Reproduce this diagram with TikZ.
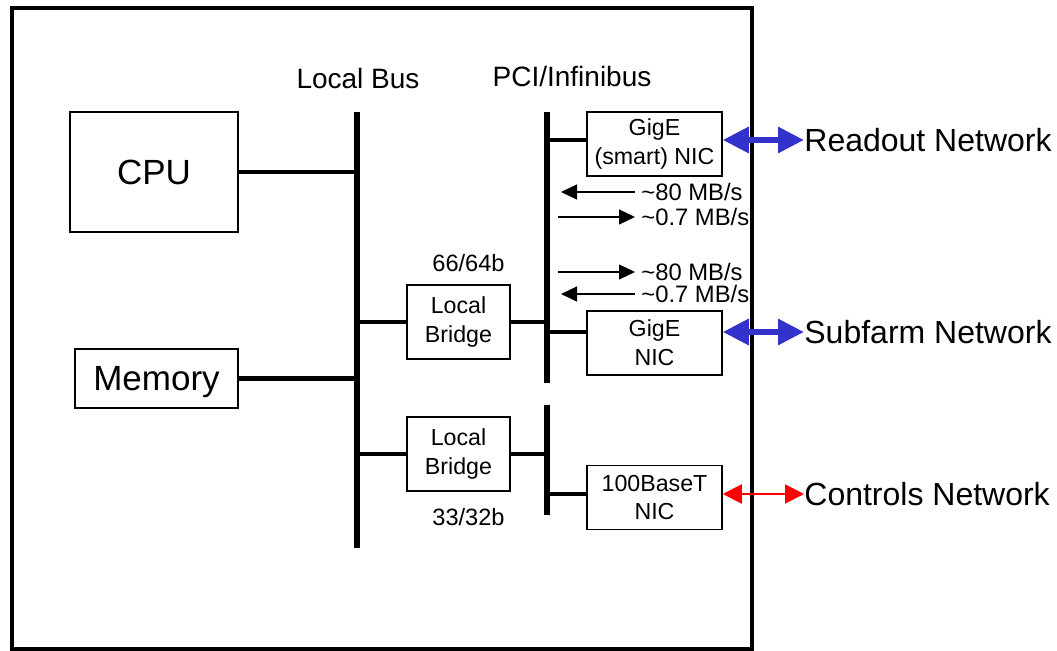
\documentclass[tikz,border=0pt]{standalone}
\usepackage{fontspec}
\setmainfont{Liberation Sans}
\usetikzlibrary{arrows.meta, positioning}
\definecolor{netBlue}{HTML}{3333CC}
\definecolor{netRed}{HTML}{FF0000}

\begin{document}
\begin{tikzpicture}[
    x=0.5pt, y=-0.5pt,
    box/.style={draw, line width=0.75pt, inner sep=0pt, align=center,
                font=\fontsize{11.6}{14.3}\selectfont},
    bigbox/.style={draw, line width=0.75pt, inner sep=0pt,
                font=\fontsize{17.5}{20}\selectfont},
    bus/.style={line width=2.6pt},
    conn/.style={line width=2.4pt},
    title/.style={inner sep=0pt, font=\fontsize{14}{16}\selectfont},
    rate/.style={inner sep=0pt, font=\fontsize{11.9}{14}\selectfont},
    netlabel/.style={inner sep=0pt, anchor=west, font=\fontsize{16}{19}\selectfont},
    ratearr/.style={-{Triangle[length=8pt, width=7.5pt]}, line width=0.6pt},
    bluearr/.style={{Triangle[length=13pt, width=12.5pt]}-{Triangle[length=13pt, width=12.5pt]},
                line width=3pt, netBlue},
    redarr/.style={{Triangle[length=9.5pt, width=9.5pt]}-{Triangle[length=9.5pt, width=9.5pt]},
                line width=1pt, netRed},
]
\useasboundingbox (0,0) rectangle (1057,651);
% Host frame
\draw[line width=2pt] (12,8) rectangle (752,649);

% Buses
\coordinate (lbT) at (357,112);
\coordinate (lbB) at (357,548);
\coordinate (pciT) at (547,112);
\coordinate (pciM) at (547,383);
\coordinate (pciL) at (547,405);
\coordinate (pciB) at (547,515);
\draw[bus] (lbT) -- (lbB);
\draw[bus] (pciT) -- (pciM);
\draw[bus] (pciL) -- (pciB);
\node[title] (lbtitle) at (358,79) {Local Bus};
\node[title] (pcititle) at (572,76) {PCI/Infinibus};

% Processor side
\node[bigbox, minimum width=84pt, minimum height=60pt] (cpu) at (154,172) {CPU};
\node[bigbox, minimum width=81.5pt, minimum height=29.5pt, text depth=0pt] (mem) at (156.5,378.5) {Memory};
\draw[conn] (cpu.east) -- (cpu.east -| lbT);
\draw[conn] (mem.east) -- (mem.east -| lbT);

% Bridges
\node[box, minimum width=51.5pt, minimum height=37pt] (bridgeA) at (458.5,322) {Local\\Bridge};
\node[box, minimum width=51.5pt, minimum height=37pt] (bridgeB) at (458.5,454) {Local\\Bridge};
\node[title, font=\fontsize{11.8}{14}\selectfont, above=6pt of bridgeA, xshift=5pt] (wideA) {66/64b};
\node[title, font=\fontsize{11.8}{14}\selectfont, below=8pt of bridgeB, xshift=5pt] (wideB) {33/32b};
\draw[conn] (bridgeA.west -| lbT) -- (bridgeA.west);
\draw[conn] (bridgeA.east) -- (bridgeA.east -| pciT);
\draw[conn] (bridgeB.west -| lbT) -- (bridgeB.west);
\draw[conn] (bridgeB.east) -- (bridgeB.east -| pciT);

% NICs
\node[box, minimum width=67.5pt, minimum height=32pt] (nicA) at (654.5,144) {GigE\\(smart) NIC};
\node[box, minimum width=67.5pt, minimum height=32pt] (nicB) at (654.5,343) {GigE\\NIC};
\node[box, minimum width=67.5pt, minimum height=32pt] (nicC) at (654.5,497.5) {100BaseT\\NIC};
\draw[conn, line width=2pt] ([yshift=2pt]nicA.west -| pciT) -- ([yshift=2pt]nicA.west);
\draw[conn, line width=2pt] ([yshift=5.5pt]nicB.west -| pciT) -- ([yshift=5.5pt]nicB.west);
\draw[conn, line width=2pt] ([yshift=1.75pt]nicC.west -| pciT) -- ([yshift=1.75pt]nicC.west);

% Networks
\node[netlabel] (readout) at (804,140) {Readout Network};
\node[netlabel] (subfarm) at (804,332) {Subfarm Network};
\node[netlabel] (controls) at (804,494) {Controls Network};
\draw[bluearr] ([yshift=2pt]nicA.east) -- (readout.west);
\draw[bluearr] ([yshift=5.5pt]nicB.east) -- (subfarm.west);
\draw[redarr] ([yshift=1.75pt]nicC.east) -- (controls.west);

% Rates
\node[rate, anchor=west] (rA) at (641,192) {\textasciitilde 80 MB/s};
\node[rate, anchor=west] (rB) at (641,217) {\textasciitilde 0.7 MB/s};
\node[rate, anchor=west] (rC) at (641,272) {\textasciitilde 80 MB/s};
\node[rate, anchor=west] (rD) at (641,294) {\textasciitilde 0.7 MB/s};
\draw[ratearr] ([xshift=-3pt]rA.west) -- ([xshift=7pt]rA.west -| pciT);
\draw[ratearr] ([xshift=5.5pt]rB.west -| pciT) -- ([xshift=-3pt]rB.west);
\draw[ratearr] ([xshift=5.5pt]rC.west -| pciT) -- ([xshift=-3pt]rC.west);
\draw[ratearr] ([xshift=-3pt]rD.west) -- ([xshift=7pt]rD.west -| pciT);
\end{tikzpicture}
\end{document}
